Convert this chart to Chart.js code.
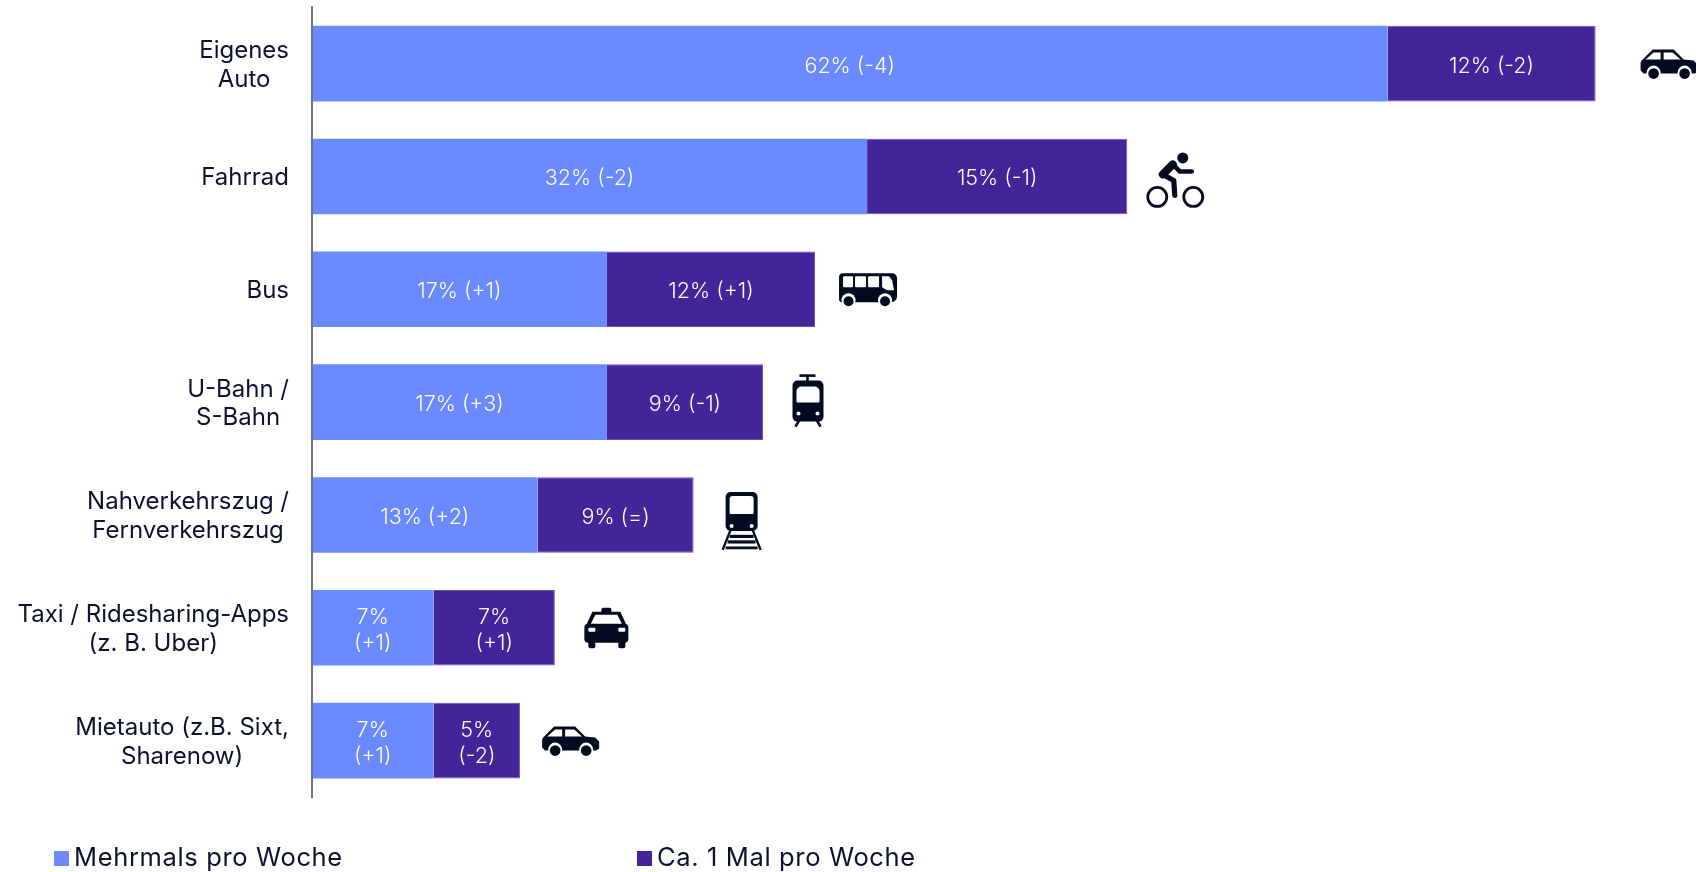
<!DOCTYPE html>
<html lang="de">
<head>
<meta charset="utf-8">
<title>Mobilität</title>
<script src="https://cdn.jsdelivr.net/npm/chart.js@4/dist/chart.umd.min.js"></script>
<style>
  html, body { margin: 0; background: #fff; overflow: hidden; }
  #wrap { position: relative; width: 1696px; height: 872px; }
  .legend-item { position: absolute; top: 841px; height: 32px; font: 400 25.5px Inter, sans-serif; color: #0b1230; letter-spacing: 0.64px; white-space: nowrap; }
  .legend-item i { display: inline-block; width: 15px; height: 15px; margin-right: 5px; }
</style>
</head>
<body>
<div id="wrap">
  <canvas id="barChart" width="1696" height="872"></canvas>
</div>
<script>
// values
const categories = [
  ["Eigenes", "Auto"],
  ["Fahrrad"],
  ["Bus"],
  ["U-Bahn /", "S-Bahn"],
  ["Nahverkehrszug /", "Fernverkehrszug"],
  ["Taxi / Ridesharing-Apps", "(z. B. Uber)"],
  ["Mietauto (z.B. Sixt,", "Sharenow)"],
];
const severalTimes = [62, 32, 17, 17, 13, 7, 7];
const severalChange = ["-4", "-2", "+1", "+3", "+2", "+1", "+1"];
const onceWeek = [12, 15, 12, 9, 9, 7, 5];
const onceChange = ["-2", "-1", "+1", "-1", "=", "+1", "-2"];
const seriesNames = ["Mehrmals pro Woche", "Ca. 1 Mal pro Woche"];
const icons = ["car", "bike", "bus", "tram", "train", "taxi", "car"];

const BLUE = "#6b8aff";
const PURPLE = "#432599";
const INK = "#020b20";
const changes = [severalChange, onceChange];

function line(ctx, pts, width) {
  ctx.lineWidth = width;
  ctx.beginPath();
  pts.forEach((p, i) => (i ? ctx.lineTo(p[0], p[1]) : ctx.moveTo(p[0], p[1])));
  ctx.stroke();
}
function poly(ctx, pts, color) {
  ctx.fillStyle = color;
  ctx.beginPath();
  pts.forEach((p, i) => (i ? ctx.lineTo(p[0], p[1]) : ctx.moveTo(p[0], p[1])));
  ctx.closePath();
  ctx.fill();
}
function box(ctx, x, y, w, h, r, color) {
  ctx.fillStyle = color;
  ctx.beginPath();
  ctx.roundRect(x, y, w, h, r);
  ctx.fill();
}
function dot(ctx, x, y, r, color) {
  ctx.fillStyle = color;
  ctx.beginPath();
  ctx.arc(x, y, r, 0, Math.PI * 2);
  ctx.fill();
}

// gaps = distance from the end of the bar, up = how far the icon's top sits above the bar centre
const iconShapes = {
  car: {
    gaps: [45, 22],
    up: 14,
    draw(ctx) {
      poly(ctx, [[1, 11], [12, 0], [33, 0], [43, 10], [53, 11], [57, 15], [57, 22], [54, 24], [3, 24], [0, 21], [0, 13]], INK);
      poly(ctx, [[5, 10], [13, 3], [20, 3], [20, 10]], "#fff");
      poly(ctx, [[23, 3], [32, 3], [40, 10], [23, 10]], "#fff");
      [13, 44].forEach((x) => {
        dot(ctx, x, 23, 7, "#fff");
        dot(ctx, x, 24, 5.3, INK);
      });
    },
  },
  bike: {
    gaps: [19.5],
    up: 24,
    draw(ctx) {
      ctx.strokeStyle = INK;
      ctx.lineCap = "round";
      ctx.lineJoin = "round";
      dot(ctx, 36, 5.5, 5.5, INK);
      line(ctx, [[16, 22], [26, 12]], 8);
      line(ctx, [[26, 12], [33, 19], [45, 19]], 4.6);
      line(ctx, [[16, 22], [27, 28], [28, 43]], 5.2);
      ctx.beginPath();
      ctx.lineWidth = 2.8;
      ctx.arc(10.5, 44.5, 9.5, 0, Math.PI * 2);
      ctx.moveTo(56, 44.5);
      ctx.arc(46.5, 44.5, 9.5, 0, Math.PI * 2);
      ctx.stroke();
    },
  },
  bus: {
    gaps: [24],
    up: 16,
    draw(ctx) {
      box(ctx, 0, 0, 58, 29, [4, 5, 6, 3], INK);
      box(ctx, 4, 3, 10, 11, 1, "#fff");
      box(ctx, 16, 3, 11, 11, 1, "#fff");
      box(ctx, 29, 3, 11, 11, 1, "#fff");
      poly(ctx, [[43, 3], [50, 3], [53, 7], [55, 17], [48, 17], [43, 14]], "#fff");
      [9.5, 46].forEach((x) => {
        dot(ctx, x, 27, 7, "#fff");
        dot(ctx, x, 28, 5, INK);
      });
    },
  },
  tram: {
    gaps: [29.5],
    up: 28.5,
    draw(ctx) {
      ctx.strokeStyle = INK;
      ctx.lineCap = "butt";
      line(ctx, [[7, 2], [23, 2]], 2.6);
      line(ctx, [[15, 2], [15, 9]], 2.6);
      line(ctx, [[7, 46], [3, 53]], 2.6);
      line(ctx, [[24, 46], [28, 53]], 2.6);
      box(ctx, 0, 7, 31, 41, 5, INK);
      box(ctx, 4, 13, 23, 16, [5, 5, 1, 1], "#fff");
      dot(ctx, 6, 40, 2, "#fff");
      dot(ctx, 25, 40, 2, "#fff");
    },
  },
  train: {
    gaps: [29],
    up: 23,
    draw(ctx) {
      ctx.strokeStyle = INK;
      ctx.lineCap = "butt";
      line(ctx, [[8, 38], [0, 58]], 2.4);
      line(ctx, [[30, 38], [38, 58]], 2.4);
      line(ctx, [[7, 44.5], [31, 44.5]], 3.2);
      line(ctx, [[5, 50], [33, 50]], 3.2);
      line(ctx, [[3, 56], [35, 56]], 2.8);
      box(ctx, 3, 0, 32, 39, 5, INK);
      box(ctx, 7, 4, 24, 18, [3, 3, 1, 1], "#fff");
      dot(ctx, 9, 34, 2, "#fff");
      dot(ctx, 29, 34, 2, "#fff");
    },
  },
  taxi: {
    gaps: [29.5],
    up: 20,
    draw(ctx) {
      box(ctx, 17, 0, 10, 7, 2, INK);
      poly(ctx, [[8, 4], [36, 4], [42, 17], [2, 17]], INK);
      poly(ctx, [[11, 7], [33, 7], [38, 17], [6, 17]], "#fff");
      box(ctx, 0, 16, 44, 19, 4, INK);
      box(ctx, 4, 32, 7, 8.5, 2, INK);
      box(ctx, 34, 32, 7, 8.5, 2, INK);
      box(ctx, 4, 20, 7, 4, 1, "#fff");
      box(ctx, 34, 20, 7, 4, 1, "#fff");
    },
  },
};

const drawExtras = {
  id: "drawExtras",
  afterDraw(chart) {
    const { ctx, scales } = chart;
    const yScale = scales.y;
    const xScale = scales.x;
    ctx.save();

    // category labels, lines centred on each other, right edge next to the axis
    ctx.font = "400 24px Inter, sans-serif";
    ctx.fillStyle = "#0b1230";
    ctx.textAlign = "center";
    ctx.textBaseline = "middle";
    categories.forEach((lines, i) => {
      const mid = yScale.getPixelForTick(i) + 1.5;
      const widest = Math.max(...lines.map((t) => ctx.measureText(t).width));
      const cx = 289 - widest / 2;
      lines.forEach((t, j) => {
        ctx.fillText(t, cx, mid + (j - (lines.length - 1) / 2) * 28.5);
      });
    });

    // value labels inside the bars
    ctx.font = "300 21.5px Inter, sans-serif";
    ctx.fillStyle = "#fff";
    chart.data.datasets.forEach((ds, d) => {
      chart.getDatasetMeta(d).data.forEach((bar, i) => {
        const v = ds.data[i];
        const x = (bar.x + bar.base) / 2;
        const c = "(" + changes[d][i] + ")";
        const mid = bar.y + 2.5;
        if (v <= 7) {
          ctx.fillText(v + "%", x, mid - 13);
          ctx.fillText(c, x, mid + 13);
        } else {
          ctx.fillText(v + "% " + c, x, mid);
        }
      });
    });

    // pictograms behind each stack
    const used = {};
    icons.forEach((name, i) => {
      const shape = iconShapes[name];
      const n = used[name] || 0;
      used[name] = n + 1;
      const end = xScale.getPixelForValue(severalTimes[i] + onceWeek[i]);
      ctx.save();
      ctx.translate(end + shape.gaps[n], yScale.getPixelForTick(i) - shape.up);
      shape.draw(ctx);
      ctx.restore();
    });
    ctx.restore();
  },
};

const chart = new Chart(document.getElementById("barChart"), {
  type: "bar",
  data: {
    labels: categories,
    datasets: [
      {
        label: seriesNames[0],
        data: severalTimes,
        backgroundColor: BLUE,
        borderWidth: 0,
      },
      {
        label: seriesNames[1],
        data: onceWeek,
        backgroundColor: PURPLE,
        borderColor: "#6a50b8",
        borderWidth: 1,
      },
    ],
  },
  options: {
    indexAxis: "y",
    responsive: false,
    animation: false,
    barPercentage: 0.67,
    categoryPercentage: 1,
    layout: { padding: { top: 7.2, bottom: 75, right: 31, left: 0 } },
    plugins: {
      legend: { display: false },
      tooltip: { enabled: false },
    },
    scales: {
      x: { stacked: true, display: false, min: 0, max: 78 },
      y: {
        stacked: true,
        ticks: { display: false },
        grid: { display: false },
        border: { display: true, color: "#6b7280", width: 2, z: 1 },
        afterFit(scale) {
          scale.width = 312;
        },
      },
    },
  },
  plugins: [drawExtras],
});

// legend, built from the datasets
const legendLeft = [54, 637];
chart.data.datasets.forEach((ds, i) => {
  const item = document.createElement("div");
  item.className = "legend-item";
  item.style.left = legendLeft[i] + "px";
  const swatch = document.createElement("i");
  swatch.style.background = ds.backgroundColor;
  item.appendChild(swatch);
  item.appendChild(document.createTextNode(ds.label));
  document.getElementById("wrap").appendChild(item);
});
</script>
</body>
</html>
